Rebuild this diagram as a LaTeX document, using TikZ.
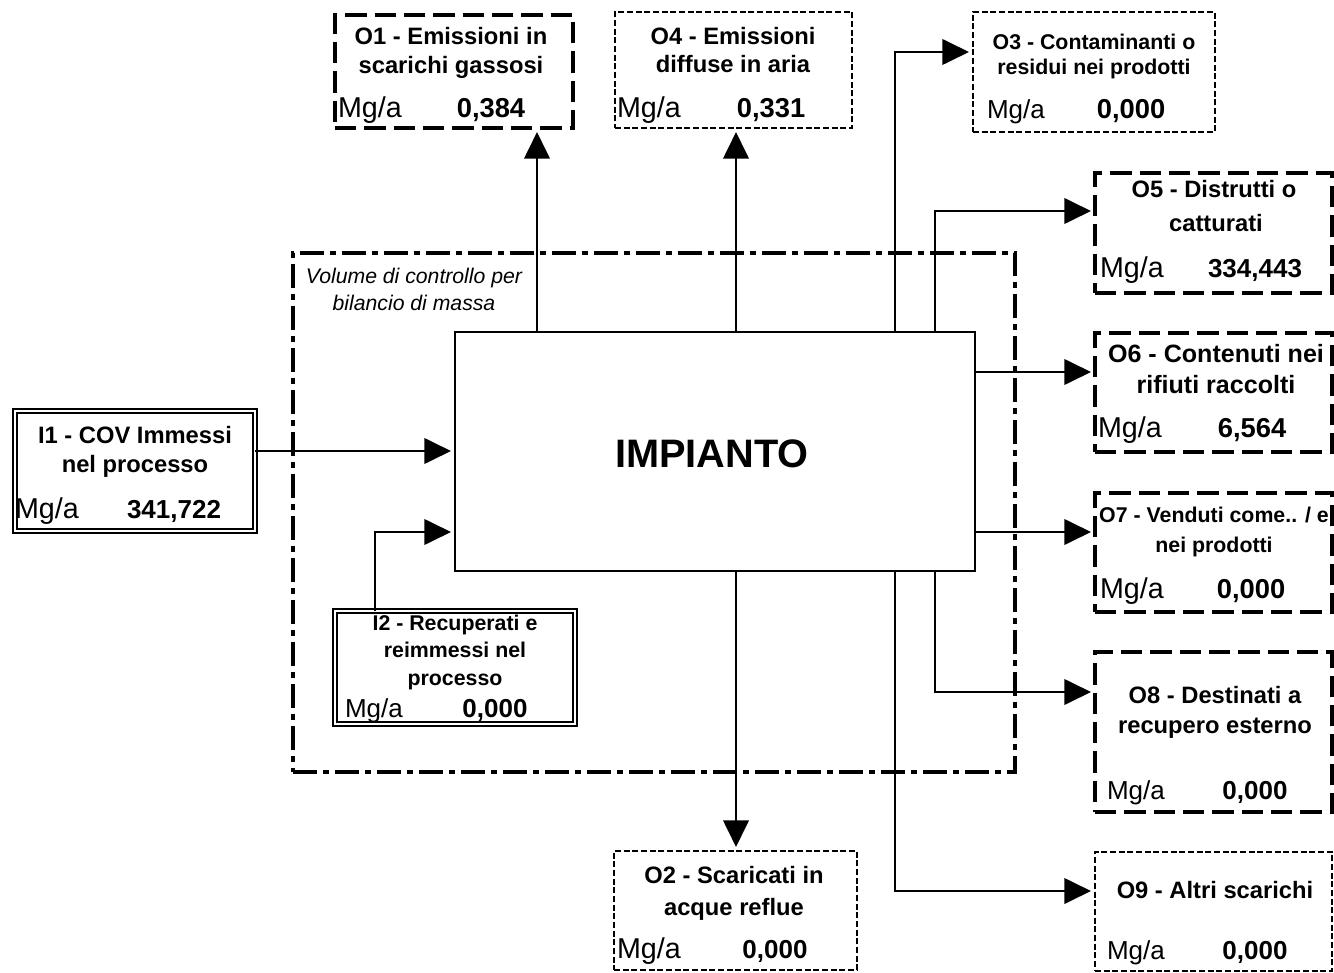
\documentclass[tikz,border=0pt]{standalone}
\usepackage{fontspec}
\setmainfont{Liberation Sans}
\usetikzlibrary{arrows.meta,fit}
\newcommand\fsz[1]{\fontsize{#1pt}{#1pt}\selectfont}
\begin{document}
\begin{tikzpicture}[x=0.75pt,y=-0.75pt,
  every node/.style={inner sep=0pt, outer sep=0pt},
  thickdash/.style={draw, line width=3.4pt, dash pattern=on 16pt off 6pt},
  thindash/.style={draw, line width=1.6pt, dash pattern=on 4.5pt off 2pt},
  dblbox/.style={draw, double, line width=1.6pt, double distance=2pt},
  dashdot/.style={draw, line width=3.6pt, dash pattern=on 18pt off 4.5pt on 4.5pt off 4.5pt},
  ttl/.style={anchor=base, font=\bfseries\fsz{17.8}},
  ttls/.style={anchor=base, font=\bfseries\fsz{16}},
  unit/.style={anchor=base west, font=\fsz{21.5}},
  units/.style={anchor=base west, font=\fsz{19.5}},
  val/.style={anchor=base, font=\bfseries\fsz{20.5}},
  vals/.style={anchor=base, font=\bfseries\fsz{19.5}},
  arr/.style={draw, line width=2.2pt, -{Triangle[length=20pt,width=19pt]}, shorten >=3pt},
]
\fill[white] (0,0) rectangle (1334,973);
\useasboundingbox (0,0) rectangle (1334,973);

% control volume
\node[fit={(293,253) (1015,772)}, dashdot] (vol) {};
\node[anchor=base, font=\itshape\fsz{15.9}] (volt1) at (414,284) {Volume di controllo per};
\node[anchor=base, font=\itshape\fsz{15.9}] (volt2) at (414,311) {bilancio di massa};

% plant
\node[fit={(455,332) (975,571)}, draw, line width=2.2pt] (imp) {};
\node[anchor=base, font=\bfseries\fsz{29.8}] (impt) at (712,467) {IMPIANTO};

% output boxes
\node[fit={(335,15) (573,128)}, thickdash] (o1) {};
\node[ttl] (o1a) at (451,45) {O1 - Emissioni in};
\node[ttl] (o1b) at (451,74) {scarichi gassosi};
\node[unit] (o1u) at (338,118) {Mg/a};
\node[val] (o1v) at (491,118) {0,384};

\node[fit={(615,12) (852,128)}, thindash] (o4) {};
\node[ttl] (o4a) at (733,45) {O4 - Emissioni};
\node[ttl] (o4b) at (733,73) {diffuse in aria};
\node[unit] (o4u) at (617,118) {Mg/a};
\node[val] (o4v) at (771,118) {0,331};

\node[fit={(973,12) (1215,132)}, thindash] (o3) {};
\node[ttls] (o3a) at (1094,50) {O3 - Contaminanti o};
\node[ttls] (o3b) at (1094,75) {residui nei prodotti};
\node[units] (o3u) at (987,119) {Mg/a};
\node[val] (o3v) at (1131,119) {0,000};

\node[fit={(1095,173) (1332,293)}, thickdash] (o5) {};
\node[ttl] (o5a) at (1214,198) {O5 - Distrutti o};
\node[ttl] (o5b) at (1216,232) {catturati};
\node[unit] (o5u) at (1100,278) {Mg/a};
\node[vals] (o5v) at (1255,278) {334,443};

\node[fit={(1095,333) (1332,452)}, thickdash] (o6) {};
\node[anchor=base, font=\bfseries\fsz{18.8}] (o6a) at (1216,363) {O6 - Contenuti nei};
\node[anchor=base, font=\bfseries\fsz{18.8}] (o6b) at (1216,393) {rifiuti raccolti};
\node[unit] (o6u) at (1098,437) {Mg/a};
\node[val] (o6v) at (1252,437) {6,564};

\node[fit={(1095,493) (1332,612)}, thickdash] (o7) {};
\node[ttls] (o7a) at (1214,522) {O7 - Venduti come.. / e};
\node[ttls] (o7b) at (1214,552) {nei prodotti};
\node[unit] (o7u) at (1100,598) {Mg/a};
\node[val] (o7v) at (1251,598) {0,000};

\node[fit={(1095,652) (1332,812)}, thickdash] (o8) {};
\node[ttl] (o8a) at (1215,703) {O8 - Destinati a};
\node[ttl] (o8b) at (1215,733) {recupero esterno};
\node[units] (o8u) at (1107,799) {Mg/a};
\node[vals] (o8v) at (1255,799) {0,000};

\node[fit={(1095,852) (1332,971)}, thindash] (o9) {};
\node[ttl] (o9a) at (1215,898) {O9 - Altri scarichi};
\node[units] (o9u) at (1107,959) {Mg/a};
\node[vals] (o9v) at (1255,959) {0,000};

\node[fit={(614,851) (857,970)}, thindash] (o2) {};
\node[ttl] (o2a) at (734,883) {O2 - Scaricati in};
\node[ttl] (o2b) at (734,915) {acque reflue};
\node[unit] (o2u) at (617,958) {Mg/a};
\node[vals] (o2v) at (775,958) {0,000};

% input boxes
\node[fit={(15,411) (255,531)}, dblbox] (i1) {};
\node[ttl] (i1a) at (135,443) {I1 - COV Immessi};
\node[ttl] (i1b) at (135,472) {nel processo};
\node[unit] (i1u) at (15,518) {Mg/a};
\node[vals] (i1v) at (174,518) {341,722};

\node[fit={(335,611) (575,724)}, dblbox] (i2) {};
\node[ttls] (i2a) at (455,630) {I2 - Recuperati e};
\node[ttls] (i2b) at (455,657) {reimmessi nel};
\node[ttls] (i2c) at (455,685) {processo};
\node[units] (i2u) at (345,717) {Mg/a};
\node[vals] (i2v) at (495,717) {0,000};

% helper coordinates
\coordinate (c1) at (537,0);
\coordinate (c4) at (736,0);
\coordinate (c3) at (895,0);
\coordinate (c5) at (935,0);
\coordinate (ci2) at (375,0);
\coordinate (r3) at (0,52);
\coordinate (r5) at (0,211);
\coordinate (r6) at (0,372);
\coordinate (r7) at (0,532);
\coordinate (r8) at (0,692);
\coordinate (r9) at (0,891);
\coordinate (ri1) at (0,451);
\coordinate (ri2) at (0,532);

% connectors
\draw[arr] (c1 |- imp.north) -- (c1 |- o1.south);
\draw[arr] (c4 |- imp.north) -- (c4 |- o4.south);
\draw[arr] (c3 |- imp.north) |- (o3.west |- r3);
\draw[arr] (c5 |- imp.north) |- (o5.west |- r5);
\draw[arr] (imp.east |- r6) -- (o6.west |- r6);
\draw[arr] (imp.east |- r7) -- (o7.west |- r7);
\draw[arr] (c5 |- imp.south) |- (o8.west |- r8);
\draw[arr] (c3 |- imp.south) |- (o9.west |- r9);
\draw[arr] (c4 |- imp.south) -- (c4 |- o2.north);
\draw[arr] (i1.east |- ri1) -- (imp.west |- ri1);
\draw[arr] (ci2 |- i2.north) |- (imp.west |- ri2);
\end{tikzpicture}
\end{document}
